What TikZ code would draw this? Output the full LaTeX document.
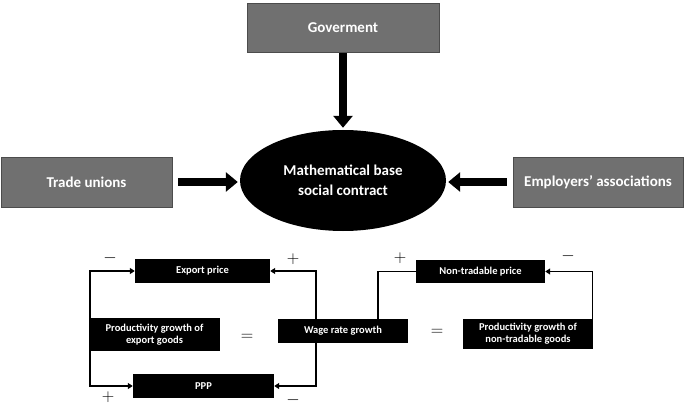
\documentclass[tikz,border=0pt]{standalone}
\usepackage{fontspec}
\setmainfont{Carlito}
\usetikzlibrary{arrows.meta,shapes.geometric,calc}
\pgfdeclarelayer{background}
\pgfsetlayers{background,main}
\begin{document}
\begin{tikzpicture}[x=1pt,y=-1pt,
 graybox/.style={draw=black!70, line width=0.6pt, fill=black!56, text=white, font=\bfseries\fontsize{15}{18}\selectfont, inner sep=0pt, align=center},
 blackbox/.style={fill=black, text=white, font=\bfseries\fontsize{10.5}{12}\selectfont, inner sep=0pt, align=center},
 bigarrow/.style={line width=8pt, -{Triangle[width=19pt,length=12pt]}},
 thinarrow/.style={line width=1.4pt, -{Triangle[width=6pt,length=5pt]}},
 conn/.style={line width=1.4pt},
 sign/.style={font=\fontsize{16}{16}\selectfont, inner sep=0pt}]
\useasboundingbox (0,0) rectangle (685,406);
% top part
\node[graybox, minimum width=192pt, minimum height=49pt] (gov) at (343,27.5) {Goverment};
\node[graybox, minimum width=171pt, minimum height=50pt] (tu) at (86.5,182) {Trade unions};
\node[graybox, minimum width=170pt, minimum height=50pt] (emp) at (598,182) {Employers’ associations};
\node[ellipse, fill=black, text=white, inner sep=0pt, minimum width=206pt, minimum height=101pt,
      font=\bfseries\fontsize{15}{20}\selectfont, align=center] (ell) at (343,180.5) {Mathematical base\\social contract};
\draw[bigarrow, shorten <=1pt, shorten >=2pt] (gov.south) -- (ell.north);
\draw[bigarrow, shorten <=6pt, shorten >=2pt] (tu.east) -- (tu.east -| ell.west);
\draw[bigarrow, shorten <=6pt, shorten >=2pt] (emp.west) -- (emp.west -| ell.east);
% bottom part
\node[blackbox, minimum width=135pt, minimum height=24pt] (exp) at (202.5,271) {Export price};
\node[blackbox, minimum width=141pt, minimum height=24pt] (ppp) at (203.5,386) {PPP};
\node[blackbox, minimum width=131pt, minimum height=33pt] (pge) at (154.5,334.5) {Productivity growth of\\export goods};
\node[blackbox, minimum width=130pt, minimum height=24pt] (wage) at (343,331) {Wage rate growth};
\node[blackbox, minimum width=129pt, minimum height=23pt] (ntp) at (480.5,271.5) {Non-tradable price};
\node[blackbox, minimum width=130pt, minimum height=30pt] (pgn) at (528,334) {Productivity growth of\\non-tradable goods};
\coordinate (pl) at ($(pge.north west)+(1,0)$);
\coordinate (pr) at ($(wage.north)+(-27,0)$);
\coordinate (pn) at ($(wage.north)+(35,0)$);
\coordinate (pq) at ($(pgn.north east)+(-1,0)$);
\begin{pgfonlayer}{background}
\draw[thinarrow] (pl) |- (exp.west);
\draw[thinarrow] (pl) |- (ppp.west);
\draw[thinarrow] (pr) |- (exp.east);
\draw[thinarrow] (pr) |- (ppp.east);
\draw[conn] (pn) |- (ntp.west);
\draw[thinarrow] (pq) |- (ntp.east);
\end{pgfonlayer}
\node[sign] (s1) at (110,258) {$-$};
\node[sign] (s2) at (293,259) {$+$};
\node[sign] (s3) at (108,397) {$+$};
\node[sign] (s4) at (293,400) {$-$};
\node[sign] (s5) at (400,258) {$+$};
\node[sign] (s6) at (568,256) {$-$};
\node[sign] (e1) at (247,337) {$=$};
\node[sign] (e2) at (437,332) {$=$};
\end{tikzpicture}
\end{document}
